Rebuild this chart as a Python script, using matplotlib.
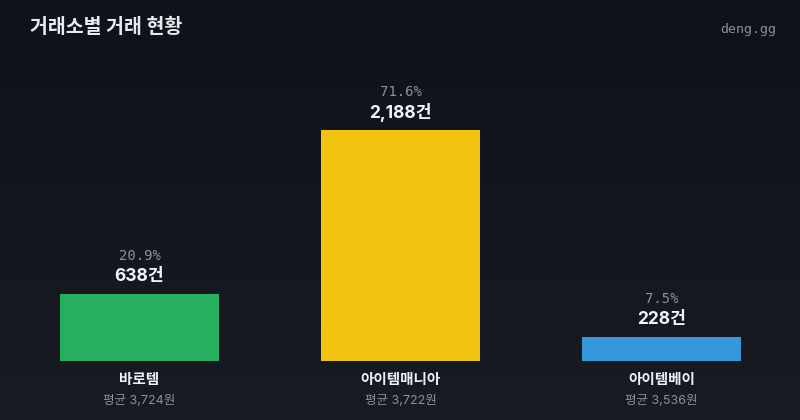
import numpy as np
import matplotlib
matplotlib.use("Agg")
import matplotlib.pyplot as plt

# Inter for digits/latin, Noto CJK KR for hangul
plt.rcParams["font.family"] = ["Inter", "Noto Sans CJK KR", "DejaVu Sans"]

# data
markets = ["바로템", "아이템매니아", "아이템베이"]
counts = [638, 2188, 228]
shares = [20.9, 71.6, 7.5]
avg_prices = [3724, 3722, 3536]
colors = ["#27ae60", "#f1c40f", "#3498db"]

W, H = 800, 420
fig = plt.figure(figsize=(W / 100, H / 100), dpi=100)

# dark background with a faint vertical gradient
bg = fig.add_axes([0, 0, 1, 1])
grad = np.linspace(0, 1, 256).reshape(-1, 1)
bg.imshow(grad, aspect="auto", extent=[0, 1, 0, 1],
          cmap=matplotlib.colors.LinearSegmentedColormap.from_list("bg", ["#181b22", "#0f121a"]),
          origin="lower")
bg.axis("off")

# main axes: baseline 361px from top, tallest bar top at 130px
base_px, top_px = 361, 130
ax = fig.add_axes([0, (H - base_px) / H, 1, (base_px - top_px) / H])
ax.set_facecolor("none")
step = 261
c0 = 139.5
ax.set_xlim(-c0 / step, (W - c0) / step)
ax.set_ylim(0, max(counts))
ax.axis("off")

x = np.arange(len(markets))
ax.bar(x, counts, width=159 / step, color=colors, clip_on=False)

for i in range(len(markets)):
    ax.annotate(f"{counts[i]:,}건", (x[i], counts[i]), xytext=(0, 12.5),
                textcoords="offset points", ha="center", va="center",
                fontsize=12.5, fontweight="bold", color="#f2f4f7", annotation_clip=False)
    ax.annotate(f"{shares[i]}%", (x[i], counts[i]), xytext=(0, 27),
                textcoords="offset points", ha="center", va="center",
                fontsize=10, family="DejaVu Sans Mono", color="#8b919a",
                annotation_clip=False)
    ax.annotate(markets[i], (x[i], 0), xytext=(0, -14),
                textcoords="offset points", ha="center", va="center",
                fontsize=10.5, fontweight="bold", color="#eef0f3", annotation_clip=False)
    ax.annotate(f"평균 {avg_prices[i]:,}원", (x[i], 0), xytext=(0, -28.5),
                textcoords="offset points", ha="center", va="center",
                fontsize=9, color="#8b919a", annotation_clip=False)

fig.text(30 / W, 1 - 27 / H, "거래소별 거래 현황", ha="left", va="center",
         fontsize=14, fontweight="bold", color="#e8eaed")
fig.text(776 / W, 1 - 30 / H, "deng.gg", ha="right", va="center",
         fontsize=9.5, family="DejaVu Sans Mono", color="#8b919a")

fig.savefig("out.png", dpi=100, facecolor="#12151c")
